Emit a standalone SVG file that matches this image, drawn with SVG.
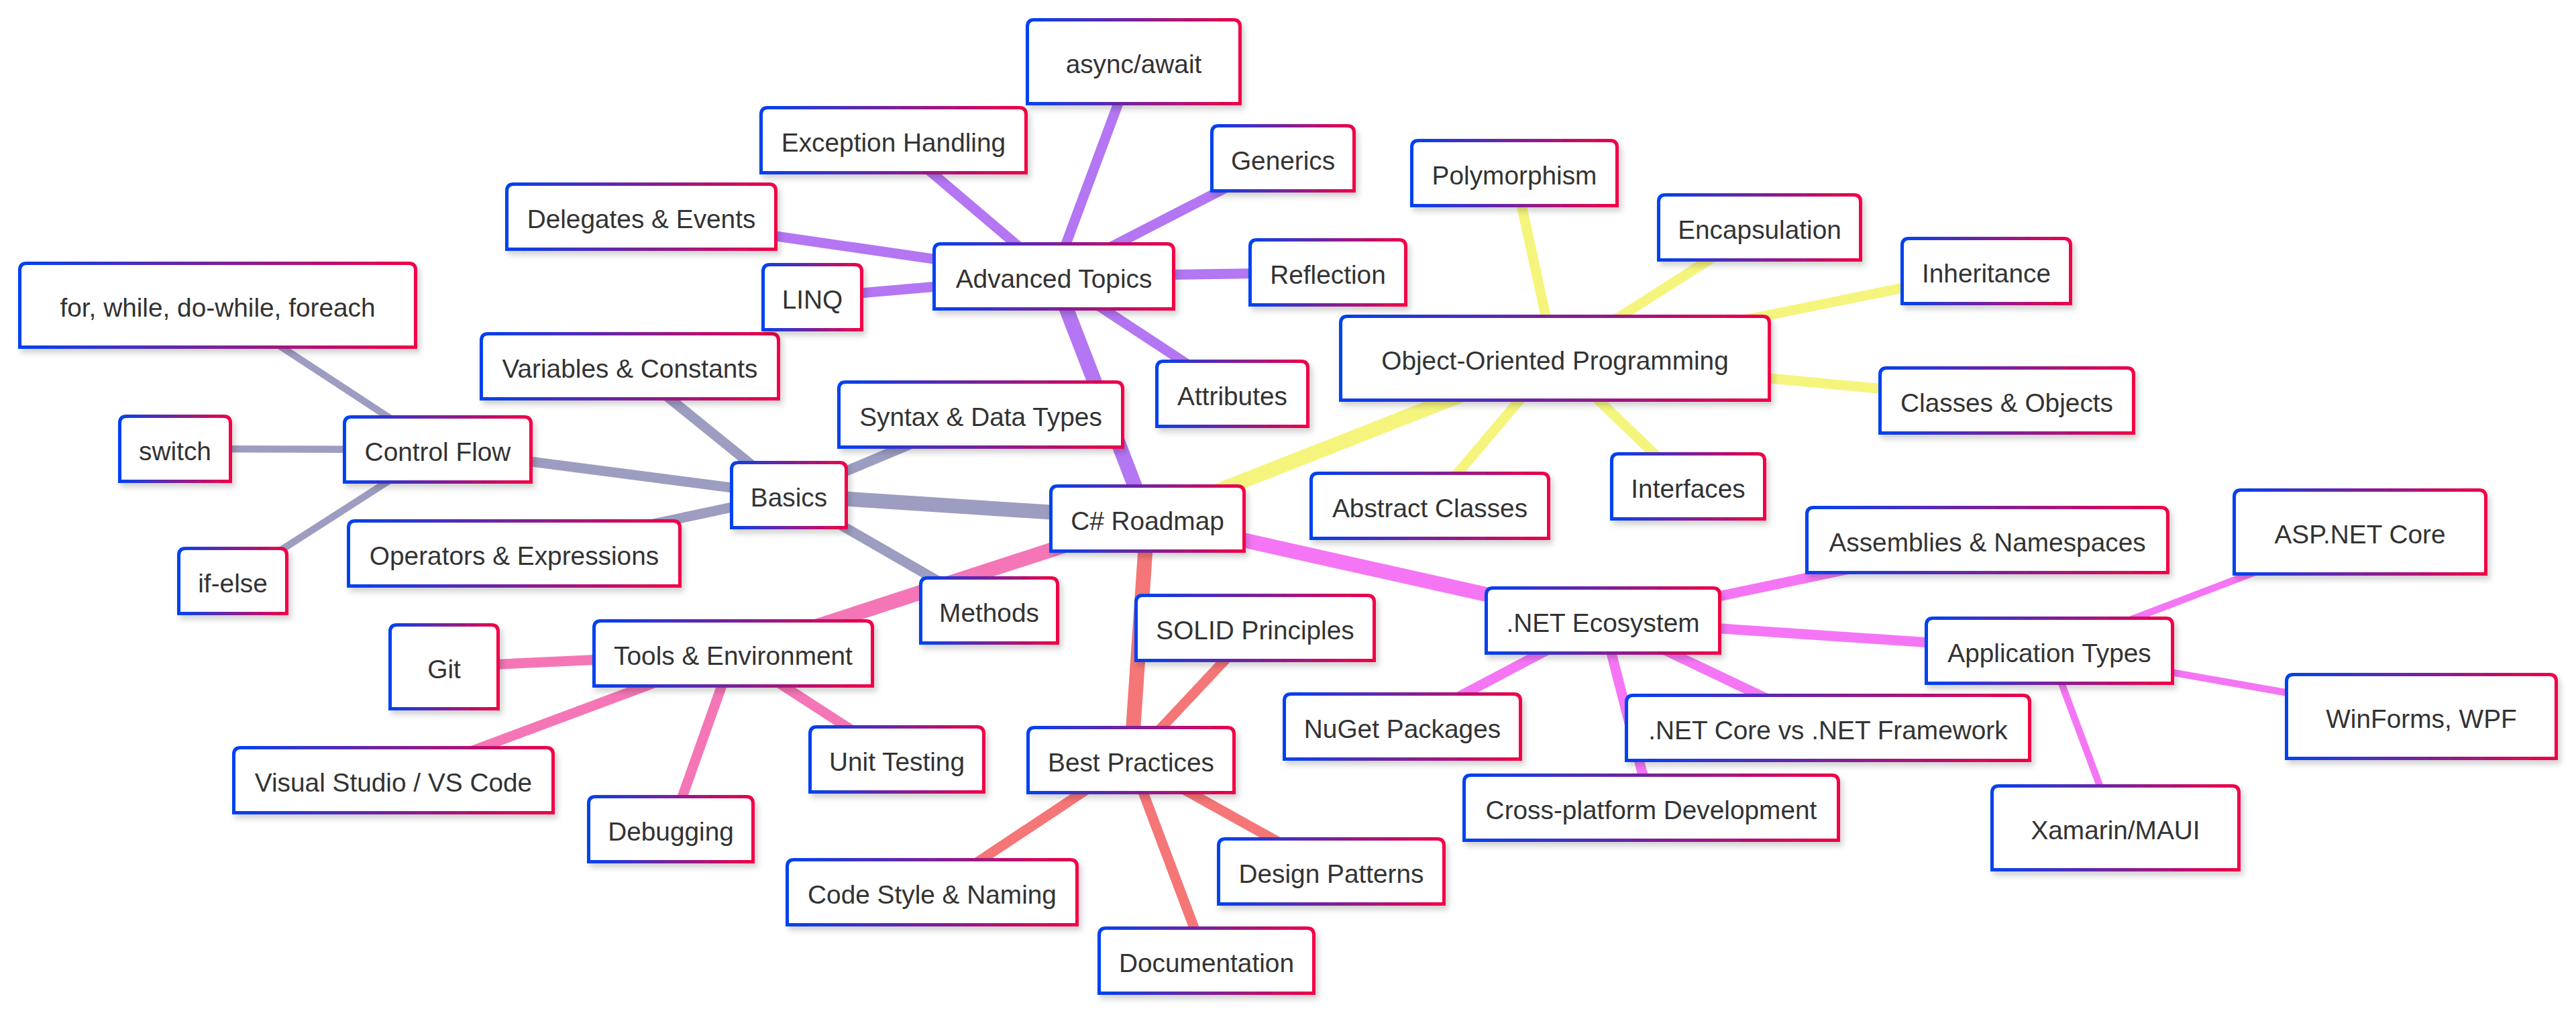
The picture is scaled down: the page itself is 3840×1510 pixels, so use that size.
<svg xmlns="http://www.w3.org/2000/svg" width="3840" height="1510" viewBox="0 0 3840 1510">
<defs>
<linearGradient id="bd" x1="0" y1="0" x2="1" y2="0">
<stop offset="0" stop-color="#0042f0"/>
<stop offset="1" stop-color="#f20046"/>
</linearGradient>
<filter id="sh" x="-10%" y="-20%" width="125%" height="150%">
<feDropShadow dx="4" dy="6" stdDeviation="4" flood-color="#000" flood-opacity="0.18"/>
</filter>
<style>
.n path{fill:#fff;stroke:url(#bd);stroke-width:5;filter:url(#sh)}
.n text{font-family:"Liberation Sans",Arial,sans-serif;font-size:38.8px;fill:#333;text-anchor:middle}
.e line{fill:none}
.d0{stroke-width:22}
.d1{stroke-width:15}
.d2{stroke-width:10.5}
.cb{stroke:#9d9dc1}
.ca{stroke:#b476f3}
.co{stroke:#f5f57e}
.cn{stroke:#f576f5}
.ct{stroke:#f576b6}
.cp{stroke:#f57676}
</style>
</defs>
<rect width="3840" height="1510" fill="#fff"/>
<g id="connectors" class="e">
<line class="d0 cb" x1="1710.5" y1="773" x2="1176" y2="738"/>
<line class="d0 ca" x1="1710.5" y1="773" x2="1571" y2="412"/>
<line class="d0 co" x1="1710.5" y1="773" x2="2318" y2="534"/>
<line class="d0 cn" x1="1710.5" y1="773" x2="2389.5" y2="925"/>
<line class="d0 ct" x1="1710.5" y1="773" x2="1093" y2="974"/>
<line class="d0 cp" x1="1710.5" y1="773" x2="1686" y2="1133"/>
<line class="d1 cb" x1="1176" y1="738" x2="652.5" y2="670"/>
<line class="d1 cb" x1="1176" y1="738" x2="939" y2="546"/>
<line class="d1 cb" x1="1176" y1="738" x2="1462" y2="618"/>
<line class="d1 cb" x1="1176" y1="738" x2="766.5" y2="825"/>
<line class="d1 cb" x1="1176" y1="738" x2="1474.5" y2="910"/>
<line class="d2 cb" x1="652.5" y1="670" x2="324.5" y2="455"/>
<line class="d2 cb" x1="652.5" y1="670" x2="261" y2="669"/>
<line class="d2 cb" x1="652.5" y1="670" x2="347" y2="866"/>
<line class="d1 ca" x1="1571" y1="412" x2="1211" y2="443"/>
<line class="d1 ca" x1="1571" y1="412" x2="956" y2="323"/>
<line class="d1 ca" x1="1571" y1="412" x2="1332" y2="209"/>
<line class="d1 ca" x1="1571" y1="412" x2="1690" y2="92"/>
<line class="d1 ca" x1="1571" y1="412" x2="1912.5" y2="236"/>
<line class="d1 ca" x1="1571" y1="412" x2="1979.5" y2="406"/>
<line class="d1 ca" x1="1571" y1="412" x2="1837" y2="587"/>
<line class="d1 co" x1="2318" y1="534" x2="2257.5" y2="258"/>
<line class="d1 co" x1="2318" y1="534" x2="2623" y2="339"/>
<line class="d1 co" x1="2318" y1="534" x2="2961" y2="404"/>
<line class="d1 co" x1="2318" y1="534" x2="2991.5" y2="597"/>
<line class="d1 co" x1="2318" y1="534" x2="2516.5" y2="725"/>
<line class="d1 co" x1="2318" y1="534" x2="2131.5" y2="754"/>
<line class="d1 cn" x1="2389.5" y1="925" x2="2962.5" y2="805"/>
<line class="d1 cn" x1="2389.5" y1="925" x2="3055" y2="970"/>
<line class="d1 cn" x1="2389.5" y1="925" x2="2725" y2="1085"/>
<line class="d1 cn" x1="2389.5" y1="925" x2="2461.5" y2="1204"/>
<line class="d1 cn" x1="2389.5" y1="925" x2="2090.5" y2="1083"/>
<line class="d2 cn" x1="3055" y1="970" x2="3518" y2="793"/>
<line class="d2 cn" x1="3055" y1="970" x2="3609.5" y2="1068"/>
<line class="d2 cn" x1="3055" y1="970" x2="3153.5" y2="1234"/>
<line class="d1 ct" x1="1093" y1="974" x2="662" y2="994"/>
<line class="d1 ct" x1="1093" y1="974" x2="586.5" y2="1163"/>
<line class="d1 ct" x1="1093" y1="974" x2="1000" y2="1236"/>
<line class="d1 ct" x1="1093" y1="974" x2="1337" y2="1132"/>
<line class="d1 cp" x1="1686" y1="1133" x2="1871" y2="936"/>
<line class="d1 cp" x1="1686" y1="1133" x2="1389.5" y2="1330"/>
<line class="d1 cp" x1="1686" y1="1133" x2="1984.5" y2="1299"/>
<line class="d1 cp" x1="1686" y1="1133" x2="1798.5" y2="1432"/>
</g>
<g id="n-root" class="n"><path d="M1566.5,821.5V734.5q0,-10 10,-10H1844.5q10,0 10,10V821.5Z"/><text x="1710.5" y="790">C# Roadmap</text></g>
<g id="n-basics" class="n"><path d="M1090.5,786.5V699.5q0,-10 10,-10H1251.5q10,0 10,10V786.5Z"/><text x="1176" y="755">Basics</text></g>
<g id="n-control-flow" class="n"><path d="M513.5,718.5V631.5q0,-10 10,-10H781.5q10,0 10,10V718.5Z"/><text x="652.5" y="687">Control Flow</text></g>
<g id="n-loops" class="n"><path d="M29.5,517.5V402.5q0,-10 10,-10H609.5q10,0 10,10V517.5Z"/><text x="324.5" y="472">for, while, do-while, foreach</text></g>
<g id="n-switch" class="n"><path d="M178.5,717.5V630.5q0,-10 10,-10H333.5q10,0 10,10V717.5Z"/><text x="261" y="686">switch</text></g>
<g id="n-if-else" class="n"><path d="M266.5,914.5V827.5q0,-10 10,-10H417.5q10,0 10,10V914.5Z"/><text x="347" y="883">if-else</text></g>
<g id="n-variables" class="n"><path d="M717.5,594.5V507.5q0,-10 10,-10H1150.5q10,0 10,10V594.5Z"/><text x="939" y="563">Variables &amp; Constants</text></g>
<g id="n-syntax" class="n"><path d="M1250.5,666.5V579.5q0,-10 10,-10H1663.5q10,0 10,10V666.5Z"/><text x="1462" y="635">Syntax &amp; Data Types</text></g>
<g id="n-operators" class="n"><path d="M519.5,873.5V786.5q0,-10 10,-10H1003.5q10,0 10,10V873.5Z"/><text x="766.5" y="842">Operators &amp; Expressions</text></g>
<g id="n-methods" class="n"><path d="M1372.5,958.5V871.5q0,-10 10,-10H1566.5q10,0 10,10V958.5Z"/><text x="1474.5" y="927">Methods</text></g>
<g id="n-advanced" class="n"><path d="M1392.5,460.5V373.5q0,-10 10,-10H1739.5q10,0 10,10V460.5Z"/><text x="1571" y="429">Advanced Topics</text></g>
<g id="n-linq" class="n"><path d="M1137.5,491.5V404.5q0,-10 10,-10H1274.5q10,0 10,10V491.5Z"/><text x="1211" y="460">LINQ</text></g>
<g id="n-delegates" class="n"><path d="M755.5,371.5V284.5q0,-10 10,-10H1146.5q10,0 10,10V371.5Z"/><text x="956" y="340">Delegates &amp; Events</text></g>
<g id="n-exceptions" class="n"><path d="M1134.5,257.5V170.5q0,-10 10,-10H1519.5q10,0 10,10V257.5Z"/><text x="1332" y="226">Exception Handling</text></g>
<g id="n-async" class="n"><path d="M1531.5,154.5V39.5q0,-10 10,-10H1838.5q10,0 10,10V154.5Z"/><text x="1690" y="109">async/await</text></g>
<g id="n-generics" class="n"><path d="M1806.5,284.5V197.5q0,-10 10,-10H2008.5q10,0 10,10V284.5Z"/><text x="1912.5" y="253">Generics</text></g>
<g id="n-reflection" class="n"><path d="M1863.5,454.5V367.5q0,-10 10,-10H2085.5q10,0 10,10V454.5Z"/><text x="1979.5" y="423">Reflection</text></g>
<g id="n-attributes" class="n"><path d="M1724.5,635.5V548.5q0,-10 10,-10H1939.5q10,0 10,10V635.5Z"/><text x="1837" y="604">Attributes</text></g>
<g id="n-oop" class="n"><path d="M1998.5,596.5V481.5q0,-10 10,-10H2627.5q10,0 10,10V596.5Z"/><text x="2318" y="551">Object-Oriented Programming</text></g>
<g id="n-polymorphism" class="n"><path d="M2104.5,306.5V219.5q0,-10 10,-10H2400.5q10,0 10,10V306.5Z"/><text x="2257.5" y="275">Polymorphism</text></g>
<g id="n-encapsulation" class="n"><path d="M2472.5,387.5V300.5q0,-10 10,-10H2763.5q10,0 10,10V387.5Z"/><text x="2623" y="356">Encapsulation</text></g>
<g id="n-inheritance" class="n"><path d="M2835.5,452.5V365.5q0,-10 10,-10H3076.5q10,0 10,10V452.5Z"/><text x="2961" y="421">Inheritance</text></g>
<g id="n-classes" class="n"><path d="M2802.5,645.5V558.5q0,-10 10,-10H3170.5q10,0 10,10V645.5Z"/><text x="2991.5" y="614">Classes &amp; Objects</text></g>
<g id="n-interfaces" class="n"><path d="M2402.5,773.5V686.5q0,-10 10,-10H2620.5q10,0 10,10V773.5Z"/><text x="2516.5" y="742">Interfaces</text></g>
<g id="n-abstract" class="n"><path d="M1954.5,802.5V715.5q0,-10 10,-10H2298.5q10,0 10,10V802.5Z"/><text x="2131.5" y="771">Abstract Classes</text></g>
<g id="n-dotnet" class="n"><path d="M2215.5,973.5V886.5q0,-10 10,-10H2553.5q10,0 10,10V973.5Z"/><text x="2389.5" y="942">.NET Ecosystem</text></g>
<g id="n-assemblies" class="n"><path d="M2693.5,853.5V766.5q0,-10 10,-10H3221.5q10,0 10,10V853.5Z"/><text x="2962.5" y="822">Assemblies &amp; Namespaces</text></g>
<g id="n-app-types" class="n"><path d="M2871.5,1018.5V931.5q0,-10 10,-10H3228.5q10,0 10,10V1018.5Z"/><text x="3055" y="987">Application Types</text></g>
<g id="n-aspnet" class="n"><path d="M3330.5,855.5V740.5q0,-10 10,-10H3695.5q10,0 10,10V855.5Z"/><text x="3518" y="810">ASP.NET Core</text></g>
<g id="n-winforms" class="n"><path d="M3408.5,1130.5V1015.5q0,-10 10,-10H3800.5q10,0 10,10V1130.5Z"/><text x="3609.5" y="1085">WinForms, WPF</text></g>
<g id="n-xamarin" class="n"><path d="M2969.5,1296.5V1181.5q0,-10 10,-10H3327.5q10,0 10,10V1296.5Z"/><text x="3153.5" y="1251">Xamarin/MAUI</text></g>
<g id="n-core-vs-framework" class="n"><path d="M2424.5,1133.5V1046.5q0,-10 10,-10H3015.5q10,0 10,10V1133.5Z"/><text x="2725" y="1102">.NET Core vs .NET Framework</text></g>
<g id="n-cross-platform" class="n"><path d="M2182.5,1252.5V1165.5q0,-10 10,-10H2730.5q10,0 10,10V1252.5Z"/><text x="2461.5" y="1221">Cross-platform Development</text></g>
<g id="n-nuget" class="n"><path d="M1914.5,1131.5V1044.5q0,-10 10,-10H2256.5q10,0 10,10V1131.5Z"/><text x="2090.5" y="1100">NuGet Packages</text></g>
<g id="n-tools" class="n"><path d="M885.5,1022.5V935.5q0,-10 10,-10H1290.5q10,0 10,10V1022.5Z"/><text x="1093" y="991">Tools &amp; Environment</text></g>
<g id="n-git" class="n"><path d="M581.5,1056.5V941.5q0,-10 10,-10H732.5q10,0 10,10V1056.5Z"/><text x="662" y="1011">Git</text></g>
<g id="n-vscode" class="n"><path d="M348.5,1211.5V1124.5q0,-10 10,-10H814.5q10,0 10,10V1211.5Z"/><text x="586.5" y="1180">Visual Studio / VS Code</text></g>
<g id="n-debugging" class="n"><path d="M877.5,1284.5V1197.5q0,-10 10,-10H1112.5q10,0 10,10V1284.5Z"/><text x="1000" y="1253">Debugging</text></g>
<g id="n-unit-testing" class="n"><path d="M1207.5,1180.5V1093.5q0,-10 10,-10H1456.5q10,0 10,10V1180.5Z"/><text x="1337" y="1149">Unit Testing</text></g>
<g id="n-best-practices" class="n"><path d="M1532.5,1181.5V1094.5q0,-10 10,-10H1829.5q10,0 10,10V1181.5Z"/><text x="1686" y="1150">Best Practices</text></g>
<g id="n-solid" class="n"><path d="M1693.5,984.5V897.5q0,-10 10,-10H2038.5q10,0 10,10V984.5Z"/><text x="1871" y="953">SOLID Principles</text></g>
<g id="n-code-style" class="n"><path d="M1173.5,1378.5V1291.5q0,-10 10,-10H1595.5q10,0 10,10V1378.5Z"/><text x="1389.5" y="1347">Code Style &amp; Naming</text></g>
<g id="n-design-patterns" class="n"><path d="M1816.5,1347.5V1260.5q0,-10 10,-10H2142.5q10,0 10,10V1347.5Z"/><text x="1984.5" y="1316">Design Patterns</text></g>
<g id="n-documentation" class="n"><path d="M1638.5,1480.5V1393.5q0,-10 10,-10H1948.5q10,0 10,10V1480.5Z"/><text x="1798.5" y="1449">Documentation</text></g>
</svg>
